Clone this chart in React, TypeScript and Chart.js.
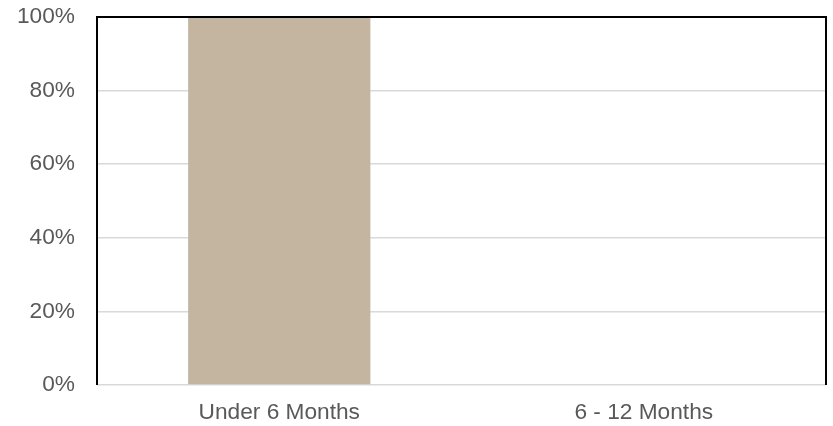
import React, { useEffect, useRef } from "react";
import { Chart, registerables } from "chart.js";

Chart.register(...registerables);

const categories = ["Under 6 Months", "6 - 12 Months"];
const values = [100, 0];
const yTicks = [0, 20, 40, 60, 80, 100];

const borderPlugin = {
  id: "boxBorder",
  afterDraw(chart: any) {
    const { ctx, chartArea } = chart;
    const { left, right, top, bottom } = chartArea;
    ctx.save();
    ctx.strokeStyle = "#000000";
    ctx.lineWidth = 2;
    ctx.beginPath();
    ctx.moveTo(left, bottom);
    ctx.lineTo(left, top);
    ctx.lineTo(right, top);
    ctx.lineTo(right, bottom);
    ctx.stroke();
    ctx.restore();
  },
};

const FONT = { family: "'Liberation Sans', Arial", size: 22.7 };

export default function App() {
  const ref = useRef<HTMLCanvasElement>(null);
  useEffect(() => {
    document.body.style.margin = "0";
    const chart = new Chart(ref.current!, {
      type: "bar",
      data: {
        labels: categories,
        datasets: [
          {
            data: values,
            backgroundColor: "#C4B5A0",
            categoryPercentage: 1,
            barPercentage: 0.5,
          },
        ],
      },
      options: {
        animation: false,
        responsive: false,
        layout: { padding: { left: 0, right: 7, top: 17, bottom: 0 } },
        plugins: { legend: { display: false }, tooltip: { enabled: false } },
        scales: {
          x: {
            grid: { display: false, drawTicks: false },
            border: { display: false },
            ticks: {
              padding: 14,
              color: "#595959",
              font: FONT,
            },
            afterFit: (s: any) => {
              s.height = 41;
              s.paddingLeft = 0;
              s.paddingRight = 0;
            },
          },
          y: {
            min: 0,
            max: 100,
            afterBuildTicks: (s: any) => {
              s.ticks = yTicks.map((v) => ({ value: v }));
            },
            grid: { color: "#D9D9D9", lineWidth: 1.5, drawTicks: false },
            border: { display: false },
            ticks: {
              padding: 22,
              color: "#595959",
              font: FONT,
              callback: (v: any) => v + "%",
            },
            afterFit: (s: any) => {
              s.width = 97;
              s.paddingTop = 0;
              s.paddingBottom = 0;
            },
          },
        },
      },
      plugins: [borderPlugin],
    });
    return () => chart.destroy();
  }, []);
  return (
    <div style={{ width: 833, height: 426, background: "#fff" }}>
      <canvas ref={ref} width={833} height={426} />
    </div>
  );
}
